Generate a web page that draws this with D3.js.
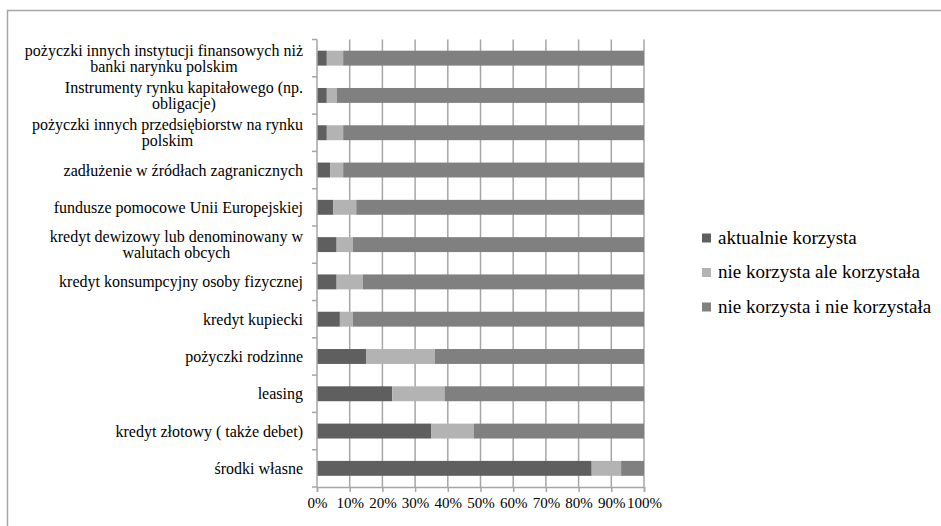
<!DOCTYPE html>
<html>
<head>
<meta charset="utf-8">
<script src="https://cdnjs.cloudflare.com/ajax/libs/d3/7.8.5/d3.min.js"></script>
<style>
  html, body { margin: 0; padding: 0; background: #fff; }
  svg { display: block; }
  svg text { font-family: "Liberation Serif", serif; }
</style>
</head>
<body>
<svg id="chart" width="941" height="526"></svg>
<script>
// ---- data ----
const categories = [
  "pożyczki innych instytucji finansowych niż\nbanki narynku polskim",
  "Instrumenty rynku kapitałowego (np.\nobligacje)",
  "pożyczki innych przedsiębiorstw na rynku\npolskim",
  "zadłużenie w źródłach zagranicznych",
  "fundusze pomocowe Unii Europejskiej",
  "kredyt dewizowy lub denominowany w\nwalutach obcych",
  "kredyt konsumpcyjny osoby fizycznej",
  "kredyt kupiecki",
  "pożyczki rodzinne",
  "leasing",
  "kredyt złotowy ( także debet)",
  "środki własne"
];
const seriesNames = ["aktualnie korzysta", "nie korzysta ale korzystała", "nie korzysta i nie korzystała"];
const aktualnie = [3, 3, 3, 4, 5, 6, 6, 7, 15, 23, 35, 84];
const korzystala = [5, 3, 5, 4, 7, 5, 8, 4, 21, 16, 13, 9];
const nieKorzystala = [92, 94, 92, 92, 88, 89, 86, 89, 64, 61, 52, 7];
const tickValues = [0, 10, 20, 30, 40, 50, 60, 70, 80, 90, 100];

const colors = ["#5f5f5f", "#b3b3b3", "#808080"];
const FONT = "'Liberation Serif', 'Times New Roman', serif";

// ---- layout ----
const svg = d3.select("#chart");
const pLeft = 317, pRight = 644, pTop = 39.5, pBottom = 487;

// frame
svg.append("rect")
  .attr("x", 7.5).attr("y", 10.5)
  .attr("width", 1000).attr("height", 600)
  .attr("fill", "none").attr("stroke", "#a6a6a6").attr("stroke-width", 1.5);

const rows = categories.map((c, i) => ({
  cat: c,
  vals: [aktualnie[i], korzystala[i], nieKorzystala[i]]
}));
rows.forEach(r => {
  const tot = d3.sum(r.vals);
  let acc = 0;
  r.segs = r.vals.map((v, k) => { const s = {k, x0: acc / tot * 100, x1: (acc + v) / tot * 100}; acc += v; return s; });
});

const x = d3.scaleLinear().domain([0, 100]).range([pLeft, pRight]);
const y = d3.scaleBand().domain(categories).range([pTop, pBottom]).paddingInner(0.6).paddingOuter(0.3);

// gridlines
svg.append("g").selectAll("line")
  .data(tickValues.slice(1))
  .join("line")
  .attr("x1", d => x(d)).attr("x2", d => x(d))
  .attr("y1", pTop).attr("y2", pBottom)
  .attr("stroke", "#a6a6a6").attr("stroke-width", 1.5);

// bars
const g = svg.append("g");
rows.forEach(r => {
  g.selectAll(null)
    .data(r.segs)
    .join("rect")
    .attr("x", d => x(d.x0))
    .attr("width", d => x(d.x1) - x(d.x0))
    .attr("y", y(r.cat))
    .attr("height", y.bandwidth())
    .attr("fill", d => colors[d.k]);
});

// x axis
const xAxis = d3.axisBottom(x).tickValues(tickValues).tickSize(5).tickPadding(5)
  .tickFormat(d => d + "%");
const xg = svg.append("g").attr("transform", `translate(0,${pBottom})`).call(xAxis);
xg.attr("font-family", null).attr("font-size", null);
xg.select(".domain").attr("stroke", "#a6a6a6").attr("stroke-width", 1.5);
xg.selectAll(".tick line").attr("stroke", "#a6a6a6").attr("stroke-width", 1.5);
xg.selectAll(".tick text").attr("fill", "#000").style("font-size", "15px")
  .style("font-family", FONT);

// y axis line + ticks at band boundaries
const bounds = d3.range(categories.length + 1).map(i => pTop + i * (pBottom - pTop) / categories.length);
svg.append("line").attr("x1", pLeft).attr("x2", pLeft).attr("y1", pTop).attr("y2", pBottom)
  .attr("stroke", "#a6a6a6").attr("stroke-width", 1.5);
svg.append("g").selectAll("line").data(bounds).join("line")
  .attr("x1", pLeft - 5).attr("x2", pLeft).attr("y1", d => d).attr("y2", d => d)
  .attr("stroke", "#a6a6a6").attr("stroke-width", 1.5);

// category labels: centered text blocks, right-aligned to the axis
const lh = 16;
const labelRight = 303;
categories.forEach(c => {
  const lines = c.split("\n");
  const cy = y(c) + y.bandwidth() / 2;
  const t = svg.append("text")
    .attr("text-anchor", "middle")
    .style("font-size", "16px")
    .style("font-family", FONT)
    .attr("fill", "#000");
  const spans = lines.map((ln, i) => t.append("tspan")
      .attr("y", cy + (i - (lines.length - 1) / 2) * lh)
      .attr("dy", "0.35em")
      .text(ln));
  const maxW = d3.max(spans, s => s.node().getComputedTextLength());
  spans.forEach(s => s.attr("x", labelRight - maxW / 2));
});

// legend
const lg = svg.append("g");
seriesNames.forEach((s, i) => {
  const ly = 237 + i * 34.5;
  lg.append("rect").attr("x", 702).attr("y", ly - 3.5).attr("width", 9).attr("height", 9).attr("fill", colors[i]);
  lg.append("text").attr("x", 718).attr("y", ly).attr("dy", "0.35em")
    .style("font-size", "19px").style("font-family", FONT).attr("fill", "#000").text(s);
});
</script>
</body>
</html>
